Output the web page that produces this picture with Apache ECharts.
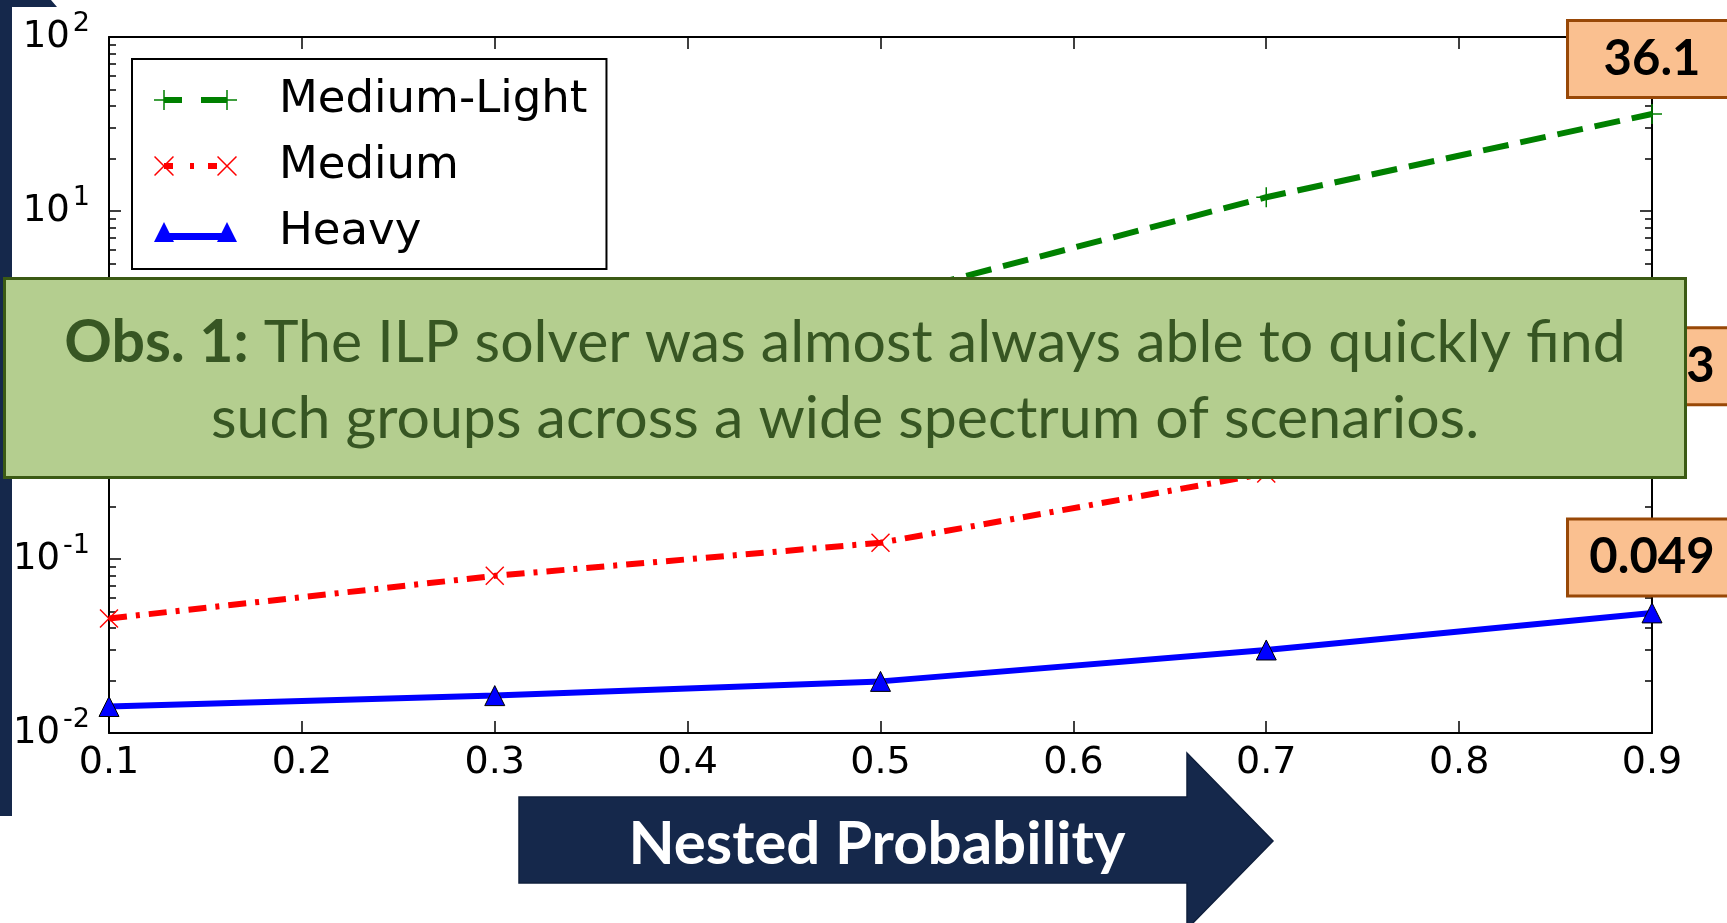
<!DOCTYPE html>
<html><head><meta charset="utf-8">
<script src="https://cdn.jsdelivr.net/npm/echarts@6/dist/echarts.min.js"></script>
<style>html,body{margin:0;padding:0;background:#fff;overflow:hidden;} #c{width:1727px;height:923px;}</style>
</head><body><div id="c"></div>
<script>
// ---- data ----
const xValues = [0.1, 0.3, 0.5, 0.7, 0.9];
const mediumLight = [0.45, 1.2, 3.15, 12.0, 36.1];
const medium = [0.0455, 0.080, 0.124, 0.31, 0.623];
const heavy = [0.0142, 0.0164, 0.0198, 0.030, 0.049];
const seriesNames = ['Medium-Light', 'Medium', 'Heavy'];
const xTickLabels = ['0.1', '0.2', '0.3', '0.4', '0.5', '0.6', '0.7', '0.8', '0.9'];
const yTickExponents = ['-2', '-1', '0', '1', '2'];
const obsTitle = 'Obs. 1:';
const obsLine1 = ' The ILP solver was almost always able to quickly find';
const obsLine2 = 'such groups across a wide spectrum of scenarios.';
const arrowLabel = 'Nested Probability';

// ---- build ----
const chart = echarts.init(document.getElementById('c'), null, {renderer: 'canvas'});
const lastIdx = xValues.length - 1;
function build(vals) {
  return vals.map((v, i) => {
    const d = {value: [xValues[i], v]};
    if (i === lastIdx) d.label = {show: true};
    return d;
  });
}
const labelBox = {
  show: false, position: 'top', distance: 8,
  formatter: p => String(p.value[1]),
  backgroundColor: '#fac090', borderColor: '#984807', borderWidth: 3,
  width: 166, height: 74, lineHeight: 74, align: 'center',
  fontFamily: 'Lato', fontWeight: 'bold', fontSize: 49, color: '#000'
};
const tickFont = 'DejaVu Sans';
const axisLineStyle = {color: '#000', width: 2};

const plusPath = 'path://M9.25,0h1.5v20h-1.5z M0,9.25h20v1.5h-20z';
const xPath = 'path://M0,1.06L1.06,0L20,18.94L18.94,20Z M18.94,0L20,1.06L1.06,20L0,18.94Z';

const legPlus = 'path://M9.25,0h1.5v20h-1.5zM0,9.25h20v1.5h-20zM10,7h18v6h-18zM47,7h26v6h-26zM72.25,0h1.5v20h-1.5zM63,9.25h20v1.5h-20z';
const legX = 'path://M0,1.06L1.06,0L20,18.94L18.94,20ZM18.94,0L20,1.06L1.06,20L0,18.94ZM10,7h9v6h-9zM36,7h4v6h-4zM54,7h9v6h-9zM63,1.06L64.06,0L83,18.94L81.94,20ZM81.94,0L83,1.06L64.06,20L63,18.94Z';
const legTri = 'path://M10,0L20,20L0,20ZM10,11h63v7h-63zM73,0L83,20L63,20Z';

const option = {
  animation: false,
  backgroundColor: '#fff',
  grid: {left: 109, right: 75, top: 37, bottom: 190},
  legend: {
    orient: 'vertical', left: 132, top: 59,
    padding: [18, 19, 14, 22],
    backgroundColor: '#fff', borderColor: '#000', borderWidth: 2, borderRadius: 0,
    itemWidth: 83, itemHeight: 20, itemGap: 20,
    textStyle: {fontFamily: tickFont, fontSize: 45, lineHeight: 46, color: '#000', padding: [0, 0, 0, 37]},
    data: [
      {name: seriesNames[0], icon: legPlus, itemStyle: {color: '#008000', borderWidth: 0}},
      {name: seriesNames[1], icon: legX, itemStyle: {color: '#ff0000', borderWidth: 0}},
      {name: seriesNames[2], icon: legTri, itemStyle: {color: '#0000ff', borderColor: '#000', borderWidth: 0}}
    ]
  },
  xAxis: [
    {type: 'value', min: 0.1, max: 0.9, interval: 0.1, position: 'bottom',
     axisLine: {show: true, onZero: false, lineStyle: axisLineStyle},
     axisTick: {show: true, inside: true, length: 12, lineStyle: {color: '#000', width: 1.5}},
     splitLine: {show: false},
     axisLabel: {show: true, margin: 11, fontFamily: tickFont, fontSize: 38, color: '#000',
       formatter: v => xTickLabels[Math.round(v * 10) - 1] || ''}},
    {type: 'value', min: 0.1, max: 0.9, interval: 0.1, position: 'top',
     axisLine: {show: true, onZero: false, lineStyle: axisLineStyle},
     axisTick: {show: true, inside: true, length: 12, lineStyle: {color: '#000', width: 1.5}},
     splitLine: {show: false}, axisLabel: {show: false}}
  ],
  yAxis: [
    {type: 'log', logBase: 10, min: 0.01, max: 100, splitNumber: 4, position: 'left',
     axisLine: {show: true, onZero: false, lineStyle: axisLineStyle},
     axisTick: {show: true, inside: true, length: 12, lineStyle: {color: '#000', width: 1.5}},
     minorTick: {show: true, splitNumber: 9, length: 7, lineStyle: {color: '#000', width: 1.5}},
     splitLine: {show: false}, minorSplitLine: {show: false},
     axisLabel: {show: true, margin: 19, color: '#000',
       formatter: v => '{b|10}{s|' + yTickExponents[Math.round(Math.log10(v)) + 2] + '}',
       rich: {
         b: {fontFamily: tickFont, fontSize: 37, lineHeight: 37, color: '#000'},
         s: {fontFamily: tickFont, fontSize: 27, lineHeight: 27, color: '#000', padding: [0, 0, 26, 3]}
       }}},
    {type: 'log', logBase: 10, min: 0.01, max: 100, splitNumber: 4, position: 'right',
     axisLine: {show: true, onZero: false, lineStyle: axisLineStyle},
     axisTick: {show: true, inside: true, length: 12, lineStyle: {color: '#000', width: 1.5}},
     minorTick: {show: true, splitNumber: 9, length: 7, lineStyle: {color: '#000', width: 1.5}},
     splitLine: {show: false}, minorSplitLine: {show: false}, axisLabel: {show: false}}
  ],
  series: [
    {name: seriesNames[0], type: 'line', data: build(mediumLight),
     symbol: plusPath, symbolSize: 20, color: '#008000',
     lineStyle: {color: '#008000', width: 6, type: [26, 12], cap: 'butt'},
     itemStyle: {color: '#008000'}, label: labelBox, z: 3},
    {name: seriesNames[1], type: 'line', data: build(medium),
     symbol: xPath, symbolSize: 19, color: '#ff0000',
     lineStyle: {color: '#ff0000', width: 6, type: [18, 9, 4, 9], cap: 'butt'},
     itemStyle: {color: '#ff0000'}, label: labelBox, z: 3},
    {name: seriesNames[2], type: 'line', data: build(heavy),
     symbol: 'triangle', symbolSize: 20, color: '#0000ff',
     lineStyle: {color: '#0000ff', width: 6, type: 'solid'},
     itemStyle: {color: '#0000ff', borderColor: '#000', borderWidth: 1},
     label: labelBox, z: 3}
  ],
  graphic: [
    {type: 'polygon', z: 50,
     shape: {points: [[0, 0], [51, 0], [57, 7], [12, 7], [12, 816], [0, 816]]},
     style: {fill: '#15284b'}},
    {type: 'polygon', z: 50,
     shape: {points: [[519, 797], [1187, 797], [1187, 753], [1273, 841], [1187, 929], [1187, 883], [519, 883]]},
     style: {fill: '#15284b', stroke: '#0f1f3d', lineWidth: 1.5}},
    {type: 'text', z: 51, x: 877, y: 845,
     style: {text: arrowLabel, fill: '#fff', font: 'bold 60px Lato', align: 'center', verticalAlign: 'middle'}},
    {type: 'rect', z: 100,
     shape: {x: 4.5, y: 278.5, width: 1681, height: 199},
     style: {fill: '#b4ce8f', stroke: '#3b5a14', lineWidth: 3}},
    {type: 'text', z: 101, x: 845, y: 381,
     style: {
       text: '{b|' + obsTitle + '}{r|' + obsLine1 + '}\n{r|' + obsLine2 + '}',
       align: 'center', verticalAlign: 'middle', fill: '#375623',
       rich: {
         b: {fontFamily: 'Lato', fontWeight: 'bold', fontSize: 59, lineHeight: 76, fill: '#375623', color: '#375623'},
         r: {fontFamily: 'Lato', fontSize: 59, lineHeight: 76, fill: '#375623', color: '#375623'}
       }
     }}
  ]
};
chart.setOption(option);
</script>
</body></html>
